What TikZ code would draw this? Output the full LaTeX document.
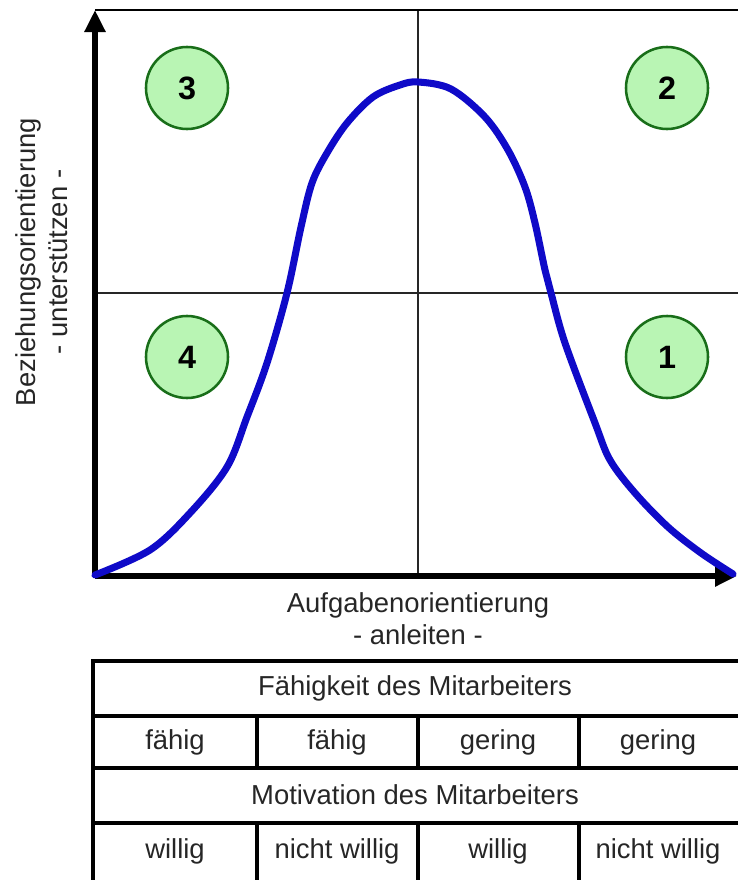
\documentclass[tikz,border=0pt]{standalone}
\usepackage{fontspec}
\setmainfont{Liberation Sans}
\usepackage{tikz}
\usetikzlibrary{arrows.meta, positioning}
\definecolor{curveblue}{RGB}{15,10,200}
\definecolor{circlefill}{RGB}{185,245,180}
\definecolor{circleline}{RGB}{25,110,25}
\tikzset{
  axis/.style={line width=4.3pt, -{Triangle[length=0.55cm,width=0.5cm]}},
  quadline/.style={line width=1.1pt, black!85},
  tabline/.style={line width=2.6pt},
  quadnum/.style={circle, draw=circleline, fill=circlefill, line width=1.8pt,
    minimum size=2.05cm, inner sep=0pt, font=\fontsize{23}{26}\selectfont\bfseries},
  lbl/.style={font=\fontsize{19.5}{23}\selectfont, text=black!85, align=center},
}

\begin{document}
\begin{tikzpicture}[x=0.025cm, y=-0.025cm]
  \useasboundingbox (0,0) rectangle (738,880);
  % axes and frame
  \coordinate (O) at (95,576);
  \coordinate (ytip) at (95,10);
  \coordinate (xtip) at (737,576);
  \coordinate (topR) at (738,10);
  \coordinate (midT) at (418,10);
  \coordinate (midB) at (418,576);
  \coordinate (midL) at (95,293);
  \coordinate (midR) at (738,293);
  \draw[quadline] (midT) -- (midB);
  \draw[quadline] (midL) -- (midR);
  \draw[line width=1.6pt] (ytip) -- (topR);
  \draw[axis] (O) -- (ytip);
  \draw[axis] (O) -- (xtip);

  % quadrant numbers
  \node[quadnum] (q3) at (187,88) {3};
  \node[quadnum] (q2) at (667,88) {2};
  \node[quadnum] (q4) at (187,357) {4};
  \node[quadnum] (q1) at (667,357) {1};

  % curve
  \draw[curveblue, line width=5pt, line join=round, line cap=round]
    plot[smooth, tension=0.55] coordinates {
      (95,575) (150,550) (190,513) (227,467) (247,417) (267,363) (287,293)
      (301,227) (312,183) (327,153) (347,123) (373,97) (400,85)
      (418,82) (451,89) (485,117) (508,150) (525,187) (535,223) (545,270)
      (551,293) (565,343) (595,423) (610,460) (635,493) (668,527)
      (701,553) (733,574)};

  % axis labels
  \node[lbl] (xlabel) at (418,619) {Aufgabenorientierung\\- anleiten -};
  \node[lbl, rotate=90] (ylabel) at (42,262) {Beziehungsorientierung\\- unterstützen -};

  % table
  \draw[tabline] (93,880) -- (93,661) -- (738,661);
  \foreach \y in {716,768,823}
    \draw[tabline] (93,\y) -- (738,\y);
  \foreach \x in {257,418,579} {
    \draw[tabline] (\x,716) -- (\x,768);
    \draw[tabline] (\x,823) -- (\x,880);
  }
  \node[lbl] (ability) at (415,688) {Fähigkeit des Mitarbeiters};
  \node[lbl] (motive) at (415,795) {Motivation des Mitarbeiters};
  \foreach \x/\a/\m [count=\i] in {175/fähig/willig, 337/fähig/nicht willig,
      498/gering/willig, 658/gering/nicht willig} {
    \node[lbl] (abil\i) at (\x,742) {\a};
    \node[lbl] (motiv\i) at (\x,851) {\m};
  }
\end{tikzpicture}
\end{document}
